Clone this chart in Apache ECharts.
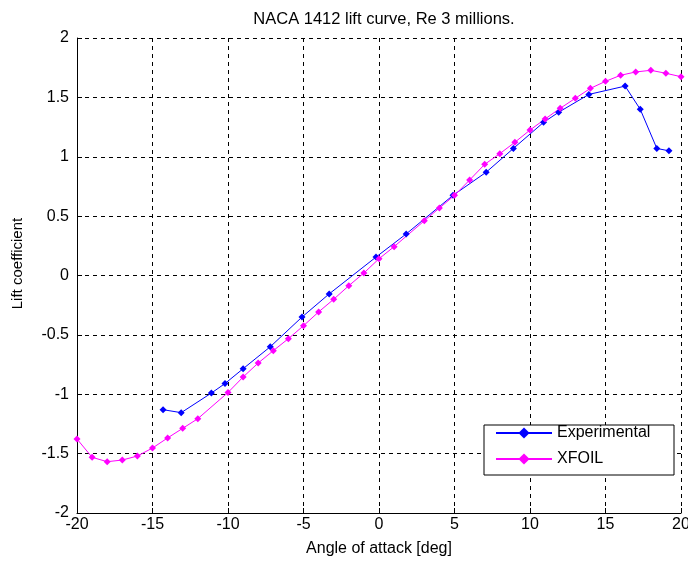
<!DOCTYPE html>
<html>
<head>
<meta charset="utf-8">
<script src="https://cdn.jsdelivr.net/npm/echarts@6/dist/echarts.min.js"></script>
<style>
html,body{margin:0;padding:0;background:#fff;}
#chart{width:688px;height:565px;}
</style>
</head>
<body>
<div id="chart"></div>
<script>
var titleText = 'NACA 1412 lift curve, Re 3 millions.';
var xName = 'Angle of attack [deg]';
var yName = 'Lift coefficient';
var seriesNames = ['Experimental', 'XFOIL'];

var expAlpha = [-14.3, -13.1, -11.1, -10.2, -9.0, -7.2, -5.1, -3.3, -0.2, 1.8, 4.9, 7.1, 8.9, 10.9, 11.9, 13.9, 16.3, 17.3, 18.4, 19.2];
var expCl    = [-1.13, -1.155, -0.99, -0.91, -0.785, -0.60, -0.35, -0.155, 0.155, 0.35, 0.675, 0.87, 1.07, 1.29, 1.375, 1.525, 1.595, 1.40, 1.07, 1.05];

var xfoilAlpha = [-20, -19, -18, -17, -16, -15, -14, -13, -12, -10, -9, -8, -7, -6, -5, -4, -3, -2, -1, 0, 1, 3, 4, 5, 6, 7, 8, 9, 10, 11, 12, 13, 14, 15, 16, 17, 18, 19, 20];
var xfoilCl    = [-1.377, -1.531, -1.568, -1.554, -1.52, -1.453, -1.368, -1.287, -1.206, -0.985, -0.855, -0.737, -0.633, -0.532, -0.423, -0.307, -0.2, -0.086, 0.021, 0.141, 0.243, 0.461, 0.568, 0.675, 0.804, 0.936, 1.026, 1.122, 1.225, 1.318, 1.408, 1.492, 1.576, 1.635, 1.686, 1.714, 1.728, 1.703, 1.674];

function pairs(xs, ys) {
  var out = [];
  for (var i = 0; i < xs.length; i++) out.push([xs[i], ys[i]]);
  return out;
}

var FONT = '"Liberation Sans", Arial, sans-serif';
var chart = echarts.init(document.getElementById('chart'), null, {renderer: 'canvas'});
var option = {
  backgroundColor: '#ffffff',
  animation: false,
  title: {
    text: titleText,
    left: 379,
    top: 6,
    textAlign: 'center',
    textStyle: {fontFamily: FONT, fontSize: 16.5, fontWeight: 'normal', color: '#000'}
  },
  grid: {
    left: 77, right: 7, top: 38, bottom: 52,
    containLabel: false,
    outerBoundsMode: 'none'
  },
  legend: {
    orient: 'vertical',
    left: 484,
    top: 425,
    data: seriesNames,
    itemWidth: 56,
    itemHeight: 14,
    itemGap: 10,
    padding: [0, 7, 8, 11],
    backgroundColor: '#ffffff',
    borderColor: '#000',
    borderWidth: 1,
    borderRadius: 0,
    textStyle: {fontFamily: FONT, fontSize: 16, color: '#000', width: 110, lineHeight: 14}
  },
  xAxis: {
    type: 'value',
    min: -20, max: 20, interval: 5,
    name: xName,
    nameLocation: 'middle',
    nameGap: 28,
    nameTextStyle: {fontFamily: FONT, fontSize: 16, color: '#000'},
    axisLine: {show: true, onZero: false, lineStyle: {color: '#000', width: 1}},
    axisTick: {show: true, inside: true, length: 5, lineStyle: {color: '#000'}},
    axisLabel: {fontFamily: FONT, fontSize: 16, color: '#000', margin: 4},
    splitLine: {show: true, lineStyle: {color: '#000', type: [4, 4], width: 1}}
  },
  yAxis: {
    type: 'value',
    min: -2, max: 2, interval: 0.5,
    name: yName,
    nameLocation: 'middle',
    nameGap: 52,
    nameTextStyle: {fontFamily: FONT, fontSize: 15, color: '#000', padding: [0, 0, 0, 24]},
    axisLine: {show: true, onZero: false, lineStyle: {color: '#000', width: 1}},
    axisTick: {show: true, inside: true, length: 5, lineStyle: {color: '#000'}},
    axisLabel: {fontFamily: FONT, fontSize: 16, color: '#000', margin: 8},
    splitLine: {show: true, lineStyle: {color: '#000', type: [4, 4], width: 1}}
  },
  series: [
    {
      name: seriesNames[0],
      type: 'line',
      data: pairs(expAlpha, expCl),
      symbol: 'diamond',
      symbolSize: 7,
      showSymbol: true,
      clip: false,
      lineStyle: {color: '#0000ff', width: 1},
      itemStyle: {color: '#0000ff'},
      emphasis: {disabled: true}
    },
    {
      name: seriesNames[1],
      type: 'line',
      data: pairs(xfoilAlpha, xfoilCl),
      symbol: 'diamond',
      symbolSize: 7,
      showSymbol: true,
      clip: false,
      lineStyle: {color: '#ff00ff', width: 1},
      itemStyle: {color: '#ff00ff'},
      emphasis: {disabled: true}
    }
  ]
};
chart.setOption(option);
</script>
</body>
</html>
